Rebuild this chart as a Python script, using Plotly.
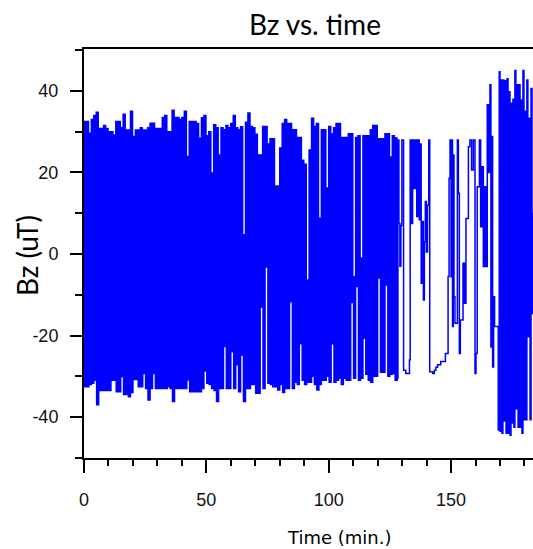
import plotly.graph_objects as go

# ---- data ----
# Dense part: per-minute envelope (upper / lower reach of the oscillation), t = 0..127 min
TOP = [32.5, 32.5, 29.6, 33.0, 34.0, 34.8, 30.8, 30.8, 31.5, 30.8,
       30.0, 30.0, 29.2, 32.5, 32.5, 31.0, 34.3, 30.4, 30.4, 35.0,
       28.8, 30.4, 30.4, 31.0, 30.4, 30.4, 31.0, 32.1, 32.1, 30.8,
       30.8, 30.8, 33.5, 34.0, 30.0, 30.0, 35.3, 33.5, 33.5, 33.0,
       33.5, 35.0, 23.9, 32.5, 32.5, 32.5, 32.0, 28.4, 33.4, 34.0,
       29.0, 30.0, 19.9, 31.7, 31.0, 24.3, 31.0, 30.5, 31.5, 31.0,
       32.0, 34.0, 31.0, 30.5, 31.2, 4.7, 32.3, 34.6, 31.3, 31.0,
       29.4, 24.3, 24.3, 31.3, 31.3, 27.0, 28.3, 28.3, 16.7, 16.7,
       26.0, 32.0, 33.0, 32.0, 32.0, 30.5, 30.5, 28.6, 28.6, 23.0,
       22.0, -6.4, 25.5, 33.3, 31.3, 32.0, 8.8, 30.5, 30.5, 16.2,
       31.3, 29.5, 31.0, 32.0, 32.0, 28.6, 28.6, 28.6, 29.5, 29.5,
       -5.6, 28.6, 29.0, -1.0, 29.0, 29.0, 29.0, 30.5, 31.5, 31.5,
       28.3, 28.3, 28.3, 29.5, 29.5, 23.8, 29.0, 28.5]
BOT = [-32.6, -32.6, -32.0, -31.7, -31.0, -37.0, -33.5, -33.5, -33.5, -33.5,
       -33.5, -31.0, -31.0, -33.8, -33.8, -30.1, -34.5, -34.5, -35.0, -34.0,
       -30.8, -30.8, -32.6, -32.6, -29.3, -33.0, -35.8, -33.0, -29.3, -33.0,
       -33.0, -33.0, -33.0, -33.0, -32.6, -33.0, -36.2, -33.0, -33.0, -33.0,
       -33.0, -33.0, -30.9, -33.8, -33.8, -33.8, -33.8, -33.8, -33.0, -28.7,
       -31.7, -32.0, -33.0, -33.5, -36.2, -33.0, -33.0, -22.7, -33.0, -33.0,
       -24.0, -33.0, -27.2, -33.8, -24.8, -36.2, -33.0, -33.0, -32.0, -32.0,
       -34.2, -34.2, -13.0, -33.0, -3.2, -31.7, -32.0, -32.6, -32.6, -33.4,
       -32.0, -34.0, -33.0, -33.0, -11.7, -33.0, -31.5, -32.0, -22.0, -31.0,
       -32.0, -31.5, -31.5, -30.0, -32.0, -33.4, -32.0, -31.0, -31.0, -30.0,
       -31.5, -22.0, -31.5, -31.0, -30.5, -32.0, -30.5, -31.0, -31.0, -11.9,
       -30.5, -8.0, -31.0, -30.5, -20.7, -29.5, -31.0, -31.5, -30.0, -30.0,
       -5.9, -29.0, -29.0, -7.6, -30.0, -29.5, -29.3, -31.0]

# Sparse part (t >= 128 min): individual readings
SPARSE_T = [128.0, 128.3, 128.7, 129.1, 129.5, 129.9, 130.6, 131.5, 133.0, 133.3,
            133.8, 134.3, 134.9, 135.4, 136.0, 136.5, 137.0, 137.4, 137.8, 138.3,
            138.7, 139.1, 139.5, 139.9, 140.4, 140.9, 141.3, 142.5, 143.2, 143.8,
            144.5, 145.8, 147.7, 148.8, 149.2, 149.6, 150.0, 150.3, 150.6, 150.9,
            151.2, 151.6, 152.6, 153.0, 153.4, 153.8, 154.9, 155.5, 156.1, 157.1,
            157.7, 158.4, 159.1, 159.8, 160.2, 160.7, 161.6, 162.1, 162.7, 163.2,
            163.7, 164.3, 164.8, 165.4, 165.9, 166.3, 166.7, 167.0, 167.4, 167.8,
            169.3, 169.7, 170.0, 170.4, 170.8, 171.2, 171.6, 172.0, 172.5, 172.9,
            173.3, 173.7, 174.1, 174.5, 174.9, 175.3, 175.7, 176.1, 176.5, 176.9,
            177.4, 177.8, 178.2, 178.6, 179.0, 179.4, 179.8, 180.2, 180.6, 181.0,
            181.4, 181.9, 182.3, 182.7, 183.1, 183.5, 184.0]
SPARSE_V = [-30.5, 28.0, 7.5, -3.0, 7.0, 28.0, -28.5, -29.3, -26.0, 28.0,
            7.5, 28.0, 16.1, 28.0, 9.2, 28.0, 8.4, 27.0, -7.2, 8.0,
            -11.3, 3.0, 12.9, 0.5, 12.0, 28.0, -28.9, -29.3, -28.5, -27.8,
            -27.2, -26.4, -24.4, -5.5, 18.6, 28.0, -5.6, 28.0, -17.8, 24.3,
            -10.5, -17.0, 28.0, 14.9, -24.4, -16.2, -2.3, -12.1, 8.7, 26.3,
            28.0, 20.6, 28.0, -29.3, -24.4, 16.5, 28.0, 6.7, 21.4, -3.1,
            16.5, -3.1, 36.6, 20.0, 41.5, -22.8, 28.8, -27.7, -10.5, -17.8,
            -43.2, 44.7, -43.5, 42.7, -44.0, 42.7, -41.0, 42.5, -44.0, 43.0,
            -44.0, 39.8, -44.5, 37.0, -41.5, 38.0, -42.5, 45.0, -38.0, 41.5,
            -42.5, 41.5, -42.5, 37.8, -44.0, 45.0, -40.7, 35.0, -40.7, 42.7,
            -20.3, 33.3, -40.7, 40.6, -14.6, 10.0, 30.0]

X_TICKS = [0, 50, 100, 150]
X_TICK_LABELS = ["0", "50", "100", "150"]
Y_TICKS = [-40, -20, 0, 20, 40]
Y_TICK_LABELS = ["-40", "-20", "0", "20", "40"]

# ---- build the series ----
SWINGS = 6  # alternations per minute in the dense part
t_all, v_all = [], []
for i, (hi, lo) in enumerate(zip(TOP, BOT)):
    for k in range(SWINGS):
        t_all.append(i + k / SWINGS)
        v_all.append(hi if k % 2 == 0 else lo)
t_all += SPARSE_T
v_all += SPARSE_V

fig = go.Figure(go.Scatter(
    x=t_all, y=v_all, mode="lines",
    line=dict(color="#0000ff", width=1.5, shape="hv"),
    hoverinfo="skip", showlegend=False,
))

tick_font = dict(family="Liberation Sans, Arial, sans-serif", size=18, color="#111")
fig.update_layout(
    width=533, height=549,
    margin=dict(l=84, r=0, t=49, b=91),
    paper_bgcolor="white", plot_bgcolor="white",
    xaxis=dict(
        range=[0, 183.5], showgrid=False, zeroline=False,
        showline=True, linecolor="black", linewidth=2, mirror=True,
        ticks="outside", ticklen=13, tickwidth=1.5, tickcolor="black",
        tickvals=X_TICKS, ticktext=X_TICK_LABELS, tickfont=tick_font,
        ticklabelstandoff=11,
        minor=dict(dtick=10, ticks="outside", ticklen=6, tickwidth=1.5,
                   tickcolor="black", showgrid=False),
    ),
    yaxis=dict(
        range=[-50.06, 50.3], showgrid=False, zeroline=False,
        showline=True, linecolor="black", linewidth=2,
        ticks="outside", ticklen=12, tickwidth=1.5, tickcolor="black",
        tickvals=Y_TICKS, ticktext=Y_TICK_LABELS, tickfont=tick_font,
        ticklabelstandoff=8,
        minor=dict(dtick=10, ticks="outside", ticklen=7, tickwidth=1.5,
                   tickcolor="black", showgrid=False),
    ),
    annotations=[
        dict(text="Bz vs. time", xref="paper", yref="paper",
             x=(315 - 84) / 449, y=(458 - 24) / 409,
             xanchor="center", yanchor="middle", showarrow=False,
             font=dict(family="Lato, sans-serif", size=28, color="black")),
        dict(text="Bz (uT)", xref="paper", yref="paper",
             x=(27 - 84) / 449, y=(458 - 256) / 409, textangle=-90,
             xanchor="center", yanchor="middle", showarrow=False,
             font=dict(family="Lato, sans-serif", size=28, color="black")),
        dict(text="Time (min.)", xref="paper", yref="paper",
             x=(339 - 84) / 449, y=(458 - 537) / 409,
             xanchor="center", yanchor="middle", showarrow=False,
             font=dict(family="DejaVu Sans, sans-serif", size=18, color="black")),
    ],
)

fig.write_html("out.html")
